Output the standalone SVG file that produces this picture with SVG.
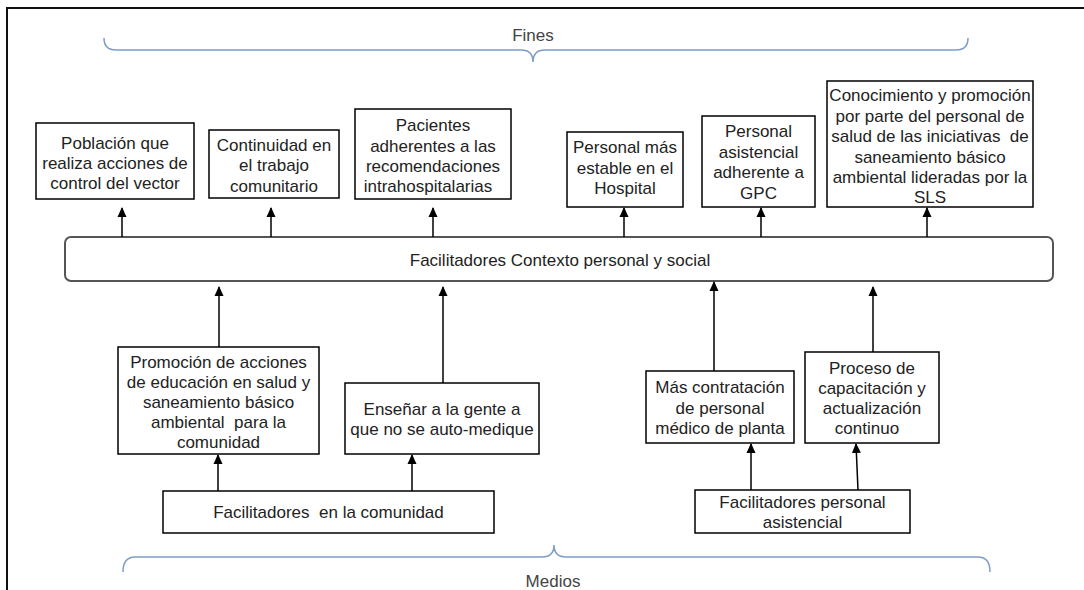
<svg xmlns="http://www.w3.org/2000/svg" width="1084" height="590" viewBox="0 0 1084 590">
  <style>
    .box { fill: #ffffff; stroke: #000000; stroke-width: 1.5; }
    .bar { fill: #ffffff; stroke: #555555; stroke-width: 2; }
    .t { font-family: "Liberation Sans", Arial, sans-serif; font-size: 17px; fill: #222222; text-anchor: middle; white-space: pre; }
    .lbl { font-family: "Liberation Sans", Arial, sans-serif; font-size: 17px; fill: #444444; text-anchor: middle; }
    .brace { fill: none; stroke: #7f9cc5; stroke-width: 1.5; }
    .conn { stroke: #000000; stroke-width: 1.5; fill: none; marker-end: url(#arrow); }
    .frame { stroke: #111111; stroke-width: 2; fill: none; }
  </style>
  <defs>
    <marker id="arrow" viewBox="0 0 10 10" refX="9" refY="5" markerWidth="10" markerHeight="10" markerUnits="userSpaceOnUse" orient="auto">
      <path d="M0,0.5 L10,5 L0,9.5 z" fill="#000000"/>
    </marker>
  </defs>

  <!-- page frame -->
  <path class="frame" d="M7,590 L7,8 L1084,8"/>

  <!-- top brace: ends -->
  <g id="fines">
    <path class="brace" d="M104,38 Q104,50 116,50 L521,50 Q533,50 533,62 Q533,50 545,50 L956,50 Q968,50 968,38"/>
    <text class="lbl" x="533" y="41">Fines</text>
  </g>

  <!-- bottom brace: means -->
  <g id="medios">
    <path class="brace" d="M123,572 Q123,557 135,557 L542,557 Q554,557 554,545 Q554,557 566,557 L978,557 Q990,557 990,572"/>
    <text class="lbl" x="553" y="587">Medios</text>
  </g>

  <!-- ends -->
  <g id="fin-poblacion">
    <rect class="box" x="36" y="123" width="158" height="76"/>
    <text class="t" x="115" y="149">Población que</text>
    <text class="t" x="115" y="169">realiza acciones de</text>
    <text class="t" x="115" y="189">control del vector</text>
  </g>
  <g id="fin-continuidad">
    <rect class="box" x="209" y="130" width="130" height="68"/>
    <text class="t" x="274" y="151">Continuidad en</text>
    <text class="t" x="274" y="171">el trabajo</text>
    <text class="t" x="274" y="192">comunitario</text>
  </g>
  <g id="fin-pacientes">
    <rect class="box" x="355" y="109" width="156" height="90"/>
    <text class="t" x="433" y="131">Pacientes</text>
    <text class="t" x="433" y="152">adherentes a las</text>
    <text class="t" x="433" y="172">recomendaciones</text>
    <text class="t" x="428" y="192">intrahospitalarias</text>
  </g>
  <g id="fin-personal-estable">
    <rect class="box" x="567" y="132" width="116" height="75"/>
    <text class="t" x="625" y="153">Personal más</text>
    <text class="t" x="625" y="174">estable en el</text>
    <text class="t" x="625" y="194">Hospital</text>
  </g>
  <g id="fin-personal-gpc">
    <rect class="box" x="702" y="116" width="113" height="91"/>
    <text class="t" x="758.5" y="137">Personal</text>
    <text class="t" x="758.5" y="158">asistencial</text>
    <text class="t" x="758.5" y="178">adherente a</text>
    <text class="t" x="758.5" y="199">GPC</text>
  </g>
  <g id="fin-conocimiento">
    <rect class="box" x="827" y="81" width="206" height="126"/>
    <text class="t" x="930" y="101">Conocimiento y promoción</text>
    <text class="t" x="930" y="122">por parte del personal de</text>
    <text class="t" x="930" y="142">salud de las iniciativas  de</text>
    <text class="t" x="930" y="163">saneamiento básico</text>
    <text class="t" x="930" y="183">ambiental lideradas por la</text>
    <text class="t" x="930" y="203">SLS</text>
  </g>

  <!-- central context bar -->
  <g id="contexto">
    <rect class="bar" x="65" y="237" width="988" height="44" rx="6" ry="6"/>
    <text class="t" x="560" y="266">Facilitadores Contexto personal y social</text>
  </g>

  <!-- intermediate means -->
  <g id="medio-promocion">
    <rect class="box" x="118" y="347" width="201" height="107"/>
    <text class="t" x="218.5" y="368">Promoción de acciones</text>
    <text class="t" x="218.5" y="388">de educación en salud y</text>
    <text class="t" x="218.5" y="408">saneamiento básico</text>
    <text class="t" x="218.5" y="428">ambiental  para la</text>
    <text class="t" x="218.5" y="448">comunidad</text>
  </g>
  <g id="medio-ensenar">
    <rect class="box" x="345" y="383" width="194" height="71"/>
    <text class="t" x="442" y="415">Enseñar a la gente a</text>
    <text class="t" x="442" y="435">que no se auto-medique</text>
  </g>
  <g id="medio-contratacion">
    <rect class="box" x="646" y="371" width="148" height="72"/>
    <text class="t" x="720" y="393">Más contratación</text>
    <text class="t" x="720" y="414">de personal</text>
    <text class="t" x="720" y="434">médico de planta</text>
  </g>
  <g id="medio-capacitacion">
    <rect class="box" x="805" y="352" width="134" height="91"/>
    <text class="t" x="872" y="374">Proceso de</text>
    <text class="t" x="872" y="394">capacitación y</text>
    <text class="t" x="872" y="414">actualización</text>
    <text class="t" x="867" y="434">continuo</text>
  </g>

  <!-- root means -->
  <g id="raiz-comunidad">
    <rect class="box" x="163" y="491" width="331" height="42"/>
    <text class="t" x="328.5" y="518">Facilitadores  en la comunidad</text>
  </g>
  <g id="raiz-asistencial">
    <rect class="box" x="695" y="490" width="215" height="43"/>
    <text class="t" x="802.5" y="508">Facilitadores personal</text>
    <text class="t" x="802.5" y="528">asistencial</text>
  </g>

  <!-- connectors -->
  <g id="connectors">
    <line class="conn" x1="122" y1="237" x2="122" y2="208"/>
    <line class="conn" x1="271" y1="237" x2="271" y2="208"/>
    <line class="conn" x1="433" y1="237" x2="433" y2="208"/>
    <line class="conn" x1="624" y1="237" x2="624" y2="208"/>
    <line class="conn" x1="761" y1="237" x2="761" y2="208"/>
    <line class="conn" x1="927" y1="237" x2="927" y2="208"/>

    <line class="conn" x1="219" y1="347" x2="219" y2="287"/>
    <line class="conn" x1="443" y1="383" x2="443" y2="287"/>
    <line class="conn" x1="714" y1="371" x2="714" y2="282"/>
    <line class="conn" x1="873" y1="352" x2="873" y2="287"/>

    <line class="conn" x1="218" y1="491" x2="218" y2="455"/>
    <line class="conn" x1="412" y1="491" x2="412" y2="455"/>
    <line class="conn" x1="751" y1="490" x2="751" y2="444"/>
    <line class="conn" x1="858" y1="490" x2="856" y2="444"/>
  </g>
</svg>
